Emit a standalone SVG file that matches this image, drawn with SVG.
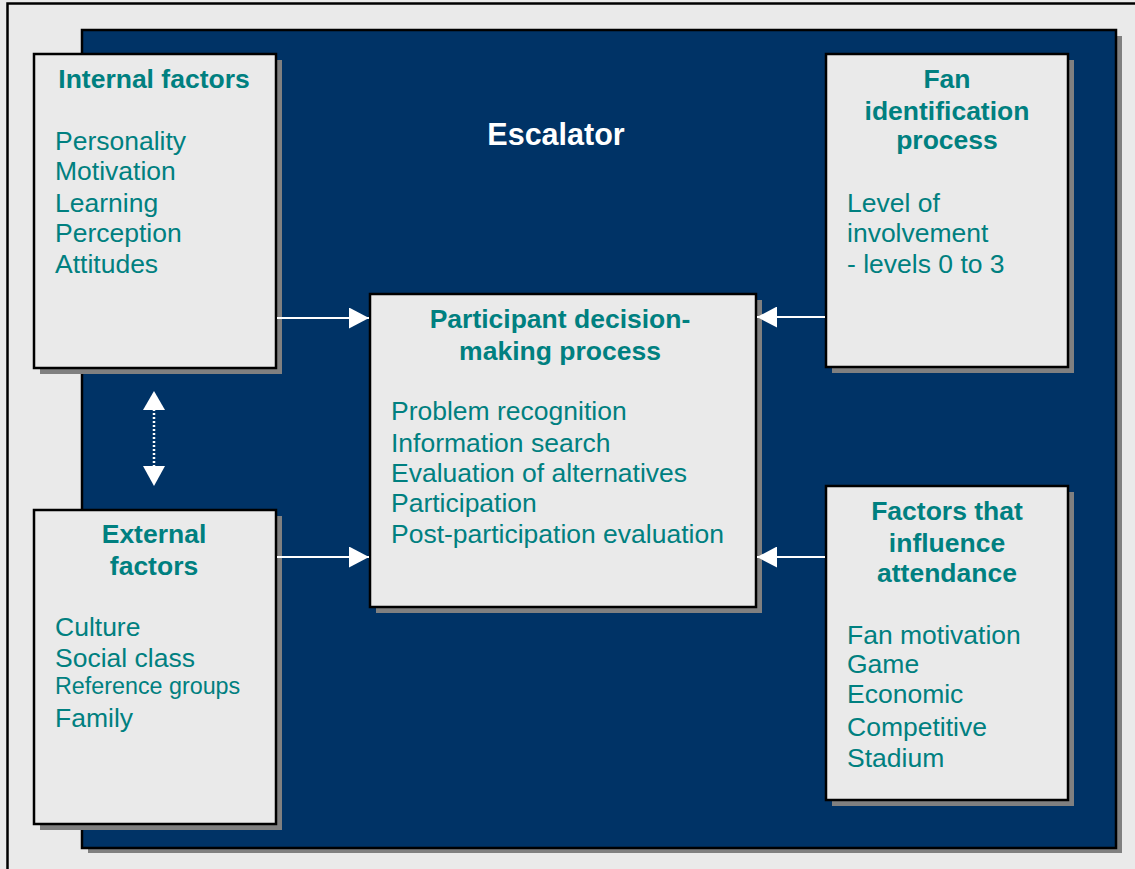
<svg xmlns="http://www.w3.org/2000/svg" width="1135" height="869" viewBox="0 0 1135 869">
<style>
.box{fill:#eaeaea;stroke:#000;stroke-width:2.5}
.sh{fill:#808080}
.t{font-family:"Liberation Sans",Arial,sans-serif;fill:#008080}
.h{font-weight:bold;font-size:26.5px;text-anchor:middle}
.b{font-size:26.5px}
.conn{stroke:#fff;stroke-width:2;fill:none}
.head{fill:#fff}
</style>
<defs>
<marker id="ah" viewBox="0 0 20 21" refX="20" refY="10.5" markerWidth="20" markerHeight="21" markerUnits="userSpaceOnUse" orient="auto-start-reverse">
<path d="M0,0 L20,10.5 L0,21 Z" fill="#fff"/>
</marker>
</defs>
<rect x="0" y="0" width="1135" height="869" fill="#eaeaea"/>
<path d="M7.5,869 V3.5 H1135" fill="none" stroke="#000" stroke-width="2.5"/>
<g id="escalator">
<rect class="sh" x="88" y="36" width="1034" height="817"/>
<rect x="82" y="30" width="1034" height="818" fill="#003366" stroke="#000" stroke-width="2.5"/>
<text x="556" y="145" font-family="Liberation Sans,Arial,sans-serif" font-weight="bold" font-size="30.5" fill="#fff" text-anchor="middle">Escalator</text>
</g>
<g id="internal">
<rect class="sh" x="40" y="60" width="242" height="314"/>
<rect class="box" x="34" y="54" width="242" height="314"/>
<text class="t h" x="154" y="88">Internal factors</text>
<text class="t b" x="55" y="150">Personality</text>
<text class="t b" x="55" y="180">Motivation</text>
<text class="t b" x="55" y="211.5">Learning</text>
<text class="t b" x="55" y="242">Perception</text>
<text class="t b" x="55" y="273">Attitudes</text>
</g>
<g id="external">
<rect class="sh" x="40" y="516" width="242" height="314"/>
<rect class="box" x="34" y="510" width="242" height="314"/>
<text class="t h" x="154" y="543">External</text>
<text class="t h" x="154" y="575">factors</text>
<text class="t b" x="55" y="635.5">Culture</text>
<text class="t b" x="55" y="667">Social class</text>
<text class="t" x="55" y="694" font-size="23.3">Reference groups</text>
<text class="t b" x="55" y="727">Family</text>
</g>
<g id="decision">
<rect class="sh" x="376" y="300" width="386" height="313"/>
<rect class="box" x="370" y="294" width="386" height="313"/>
<text class="t h" x="560" y="328">Participant decision-</text>
<text class="t h" x="560" y="360">making process</text>
<text class="t b" x="391" y="420">Problem recognition</text>
<text class="t b" x="391" y="451.5">Information search</text>
<text class="t b" x="391" y="481.5">Evaluation of alternatives</text>
<text class="t b" x="391" y="511.5">Participation</text>
<text class="t b" x="391" y="543">Post-participation evaluation</text>
</g>
<g id="fan">
<rect class="sh" x="832" y="60" width="242" height="313"/>
<rect class="box" x="826" y="54" width="242" height="313"/>
<text class="t h" x="947" y="88">Fan</text>
<text class="t h" x="947" y="120">identification</text>
<text class="t h" x="947" y="149">process</text>
<text class="t b" x="847" y="211.5">Level of</text>
<text class="t b" x="847" y="241.5">involvement</text>
<text class="t b" x="847" y="273">- levels 0 to 3</text>
</g>
<g id="attendance">
<rect class="sh" x="832" y="492" width="242" height="314"/>
<rect class="box" x="826" y="486" width="242" height="314"/>
<text class="t h" x="947" y="520">Factors that</text>
<text class="t h" x="947" y="551.5">influence</text>
<text class="t h" x="947" y="581.5">attendance</text>
<text class="t b" x="847" y="644">Fan motivation</text>
<text class="t b" x="847" y="673">Game</text>
<text class="t b" x="847" y="703">Economic</text>
<text class="t b" x="847" y="736">Competitive</text>
<text class="t b" x="847" y="767">Stadium</text>
</g>
<g id="connectors">
<line class="conn" x1="277" y1="318" x2="369" y2="318" marker-end="url(#ah)"/>
<line class="conn" x1="277" y1="557" x2="369" y2="557" marker-end="url(#ah)"/>
<line class="conn" x1="825" y1="317" x2="757" y2="317" marker-end="url(#ah)"/>
<line class="conn" x1="825" y1="557" x2="757" y2="557" marker-end="url(#ah)"/>
<line x1="154" y1="409" x2="154" y2="467" stroke="#fff" stroke-width="2.5" stroke-dasharray="2,2"/>
<path class="head" d="M154,391 L165,410 L143,410 Z"/>
<path class="head" d="M154,486 L165,466 L143,466 Z"/>
</g>
</svg>
